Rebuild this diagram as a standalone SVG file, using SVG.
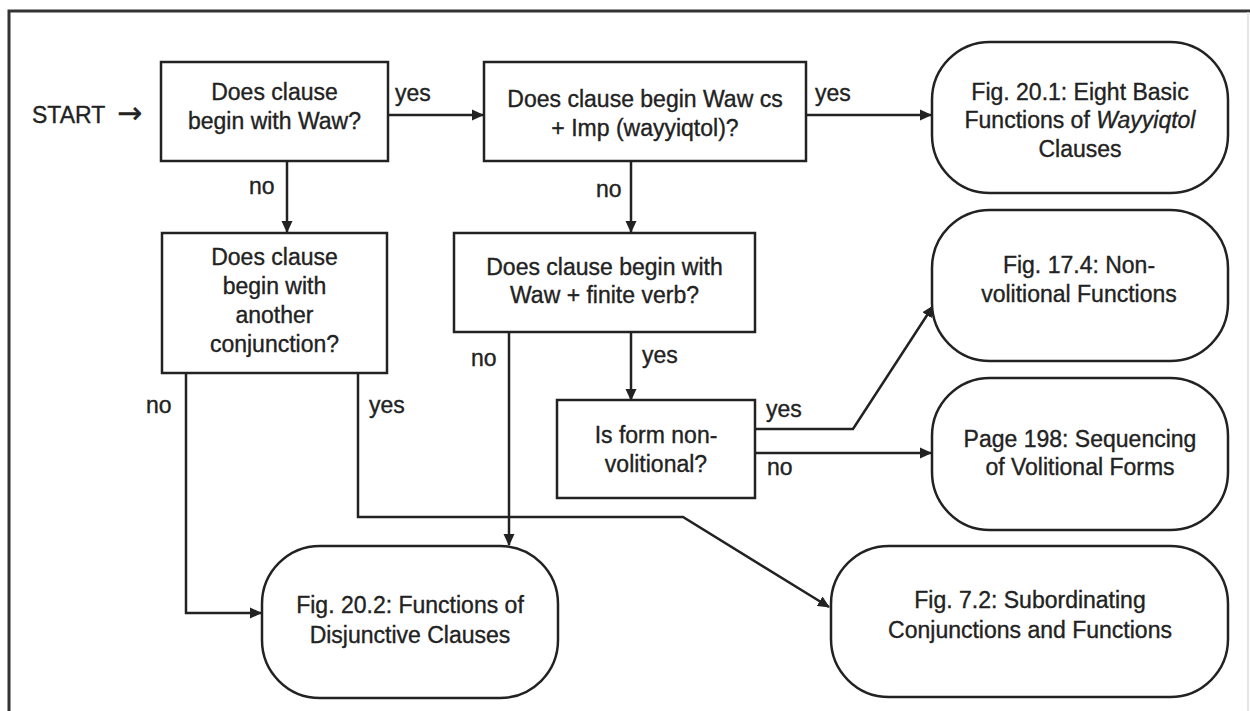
<svg xmlns="http://www.w3.org/2000/svg" width="1250" height="711" viewBox="0 0 1250 711">
<style>
text{font-family:"Liberation Sans",Arial,sans-serif;font-size:23px;fill:#222;stroke:#222;stroke-width:0.35}
.c{text-anchor:middle}
.box{fill:#fff;stroke:#222;stroke-width:2.5}
.term{fill:#fff;stroke:#222;stroke-width:2.5}
.ln{fill:none;stroke:#222;stroke-width:2.5}
</style>
<defs>
<marker id="ah" markerWidth="12" markerHeight="12" viewBox="0 0 12 12" refX="11" refY="6" orient="auto" markerUnits="userSpaceOnUse">
<path d="M0,0.5 L12,6 L0,11.5 Z" fill="#222"/>
</marker>
</defs>
<rect width="1250" height="711" fill="#fff"/>
<path d="M9,711 V11 H1250" fill="none" stroke="#333" stroke-width="3"/>
<line x1="1248" y1="12" x2="1248" y2="711" stroke="#ddd" stroke-width="1.5"/>

<text id="start" x="32" y="123">START <tspan x="117" font-family="'DejaVu Sans',sans-serif" font-size="30">→</tspan></text>

<g id="connectors">
<line class="ln" x1="388" y1="115" x2="483" y2="115" marker-end="url(#ah)"/>
<line class="ln" x1="806" y1="115" x2="931" y2="115" marker-end="url(#ah)"/>
<line class="ln" x1="287" y1="161" x2="287" y2="232" marker-end="url(#ah)"/>
<line class="ln" x1="631" y1="161" x2="631" y2="232" marker-end="url(#ah)"/>
<line class="ln" x1="631" y1="332" x2="631" y2="400" marker-end="url(#ah)"/>
<line class="ln" x1="509" y1="332" x2="509" y2="545" marker-end="url(#ah)"/>
<path class="ln" d="M186,373 V613 H261" marker-end="url(#ah)"/>
<path class="ln" d="M358,373 V517 H683 L829,607" marker-end="url(#ah)"/>
<path class="ln" d="M755,429 H853 L933,306" marker-end="url(#ah)"/>
<line class="ln" x1="755" y1="453" x2="931" y2="453" marker-end="url(#ah)"/>
<text x="395" y="101">yes</text>
<text x="815" y="101">yes</text>
<text x="249" y="194">no</text>
<text x="596" y="197">no</text>
<text x="146" y="413">no</text>
<text x="369" y="413">yes</text>
<text x="471" y="366">no</text>
<text x="642" y="363">yes</text>
<text x="766" y="417">yes</text>
<text x="767" y="475">no</text>
</g>

<g id="q1">
<rect class="box" x="161" y="62" width="227" height="99"/>
<text class="c" x="274.5" y="100">Does clause</text>
<text class="c" x="274.5" y="129">begin with Waw?</text>
</g>

<g id="q2">
<rect class="box" x="484" y="62" width="322" height="99"/>
<text class="c" x="645" y="107">Does clause begin Waw cs</text>
<text class="c" x="645" y="136">+ Imp (wayyiqtol)?</text>
</g>

<g id="t1">
<rect class="term" x="932" y="42" width="296" height="151" rx="58" ry="58"/>
<text class="c" x="1080" y="100">Fig. 20.1: Eight Basic</text>
<text class="c" x="1080" y="128">Functions of <tspan font-style="italic">Wayyiqtol</tspan></text>
<text class="c" x="1080" y="157">Clauses</text>
</g>

<g id="q3">
<rect class="box" x="162" y="233" width="225" height="140"/>
<text class="c" x="274.5" y="265">Does clause</text>
<text class="c" x="274.5" y="294">begin with</text>
<text class="c" x="274.5" y="323">another</text>
<text class="c" x="274.5" y="352">conjunction?</text>
</g>

<g id="q4">
<rect class="box" x="454" y="233" width="301" height="99"/>
<text class="c" x="604.5" y="275">Does clause begin with</text>
<text class="c" x="604.5" y="303">Waw + finite verb?</text>
</g>

<g id="t2">
<rect class="term" x="932" y="210" width="296" height="151" rx="58" ry="58"/>
<text class="c" x="1079" y="273">Fig. 17.4: Non-</text>
<text class="c" x="1079" y="302">volitional Functions</text>
</g>

<g id="q5">
<rect class="box" x="557" y="400" width="198" height="98"/>
<text class="c" x="656" y="443">Is form non-</text>
<text class="c" x="656" y="472">volitional?</text>
</g>

<g id="t3">
<rect class="term" x="932" y="378" width="296" height="152" rx="58" ry="58"/>
<text class="c" x="1080" y="447">Page 198: Sequencing</text>
<text class="c" x="1080" y="475">of Volitional Forms</text>
</g>

<g id="t4">
<rect class="term" x="262" y="546" width="296" height="152" rx="58" ry="58"/>
<text class="c" x="410" y="613">Fig. 20.2: Functions of</text>
<text class="c" x="410" y="643">Disjunctive Clauses</text>
</g>

<g id="t5">
<rect class="term" x="831" y="546" width="397" height="151" rx="58" ry="58"/>
<text class="c" x="1030" y="608">Fig. 7.2: Subordinating</text>
<text class="c" x="1030" y="638">Conjunctions and Functions</text>
</g>
</svg>
